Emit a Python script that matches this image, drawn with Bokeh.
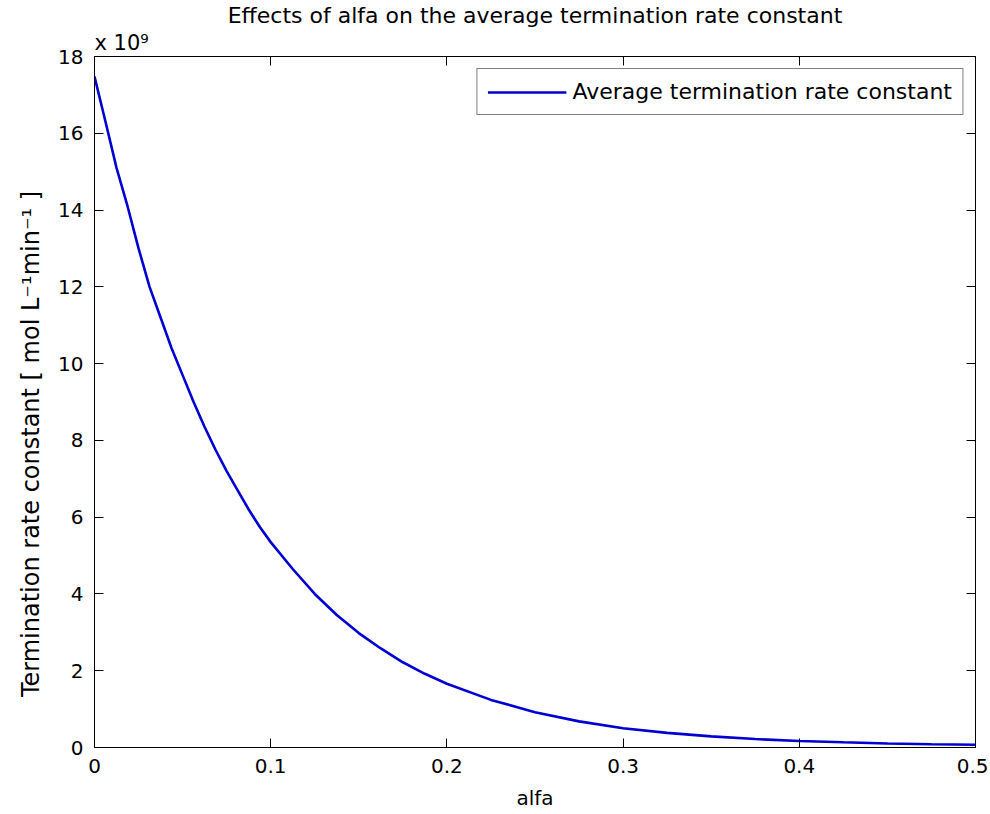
from bokeh.plotting import figure
from bokeh.models import (LinearAxis, Title, FixedTicker, CustomJSTickFormatter,
                          Range1d, Legend, LegendItem)
from bokeh.embed import file_html
from bokeh.resources import INLINE

# ---- data ----
alfa = [0.0, 0.00625, 0.0125, 0.01875, 0.025, 0.03125, 0.0375, 0.04375, 0.05,
        0.05625, 0.0625, 0.06875, 0.075, 0.08125, 0.0875, 0.09375, 0.1,
        0.1125, 0.125, 0.1375, 0.15, 0.1625, 0.175, 0.1875, 0.2,
        0.225, 0.25, 0.275, 0.3, 0.325, 0.35, 0.375, 0.4, 0.425, 0.45,
        0.475, 0.5]
kt_e9 = [17.48, 16.3, 15.1, 14.1, 13.0, 12.0, 11.2, 10.4, 9.7,
         9.0, 8.35, 7.75, 7.2, 6.7, 6.2, 5.75, 5.35,
         4.65, 4.0, 3.45, 2.98, 2.58, 2.22, 1.92, 1.66,
         1.24, 0.92, 0.68, 0.50, 0.38, 0.29, 0.22, 0.17, 0.135, 0.105,
         0.085, 0.07]
x_ticks = [0, 0.1, 0.2, 0.3, 0.4, 0.5]
y_ticks = [0, 2, 4, 6, 8, 10, 12, 14, 16, 18]
title_text = "Effects of alfa on the average termination rate constant"
x_label = "alfa"
y_label = "Termination rate constant [ mol L\u207b\u00b9min\u207b\u00b9 ]"
series_name = "Average termination rate constant"
exponent_text = "x 10\u2079"

FONT = "DejaVu Sans"
LINE_COLOR = "#0000d0"

p = figure(width=988, height=812, output_backend="svg", toolbar_location=None,
           x_range=Range1d(0, 0.5), y_range=Range1d(0, 18),
           min_border_left=94, min_border_right=13, min_border_top=55,
           min_border_bottom=63, title=title_text,
           background_fill_color="white", border_fill_color="white")

p.title.align = "center"
p.title.text_font = FONT
p.title.text_font_size = "22px"
p.title.text_font_style = "normal"
p.title.text_color = "black"
p.title.standoff = 0

p.xgrid.visible = False
p.ygrid.visible = False
p.outline_line_color = "black"

for ax in (p.xaxis[0], p.yaxis[0]):
    ax.axis_line_color = "black"
    ax.major_tick_in = 9
    ax.major_tick_out = 0
    ax.minor_tick_in = 0
    ax.minor_tick_out = 0
    ax.major_tick_line_color = "black"
    ax.major_label_text_font = FONT
    ax.major_label_text_font_size = "20px"
    ax.major_label_text_color = "black"
    ax.axis_label_text_font = FONT
    ax.axis_label_text_font_style = "normal"
    ax.axis_label_text_color = "black"

p.xaxis[0].ticker = FixedTicker(ticks=x_ticks)
p.yaxis[0].ticker = FixedTicker(ticks=y_ticks)
p.xaxis[0].axis_label = x_label
# trailing no-break spaces shift the centred label down, as in the reference
p.yaxis[0].axis_label = y_label + "\u00a0" * 11
p.xaxis[0].axis_label_text_font_size = "20px"
p.yaxis[0].axis_label_text_font_size = "24px"
p.xaxis[0].major_label_standoff = 11
p.yaxis[0].major_label_standoff = 11
p.xaxis[0].axis_label_standoff = 10
p.yaxis[0].axis_label_standoff = 10

for loc, ticks in (("above", x_ticks), ("right", y_ticks)):
    ax = LinearAxis(ticker=FixedTicker(ticks=ticks),
                    formatter=CustomJSTickFormatter(code="return ''"),
                    major_tick_in=9, major_tick_out=0,
                    minor_tick_in=0, minor_tick_out=0,
                    axis_line_color="black", major_tick_line_color="black",
                    major_label_text_font_size="1px", major_label_standoff=0)
    p.add_layout(ax, loc)

p.add_layout(Title(text=exponent_text, align="left", text_font=FONT,
                   text_font_size="21px", text_font_style="normal",
                   text_color="black", standoff=3), "above")

r = p.line(alfa, kt_e9, line_color=LINE_COLOR, line_width=2.6)

legend = Legend(items=[LegendItem(label=series_name, renderers=[r])],
                location="top_right", margin=12, padding=10,
                glyph_width=79, glyph_height=20, label_standoff=6,
                label_text_font=FONT, label_text_font_size="22px",
                label_text_color="black",
                border_line_color="black", border_line_width=1,
                background_fill_color="white", background_fill_alpha=1.0)
p.add_layout(legend)

open("out.html", "w").write(file_html(p, INLINE))
